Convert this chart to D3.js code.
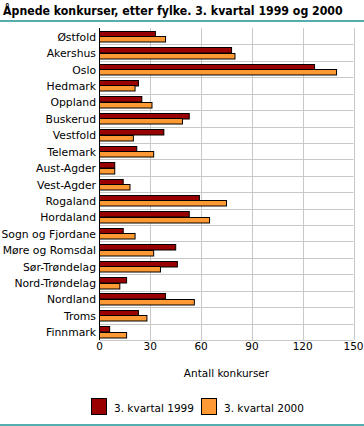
<!DOCTYPE html>
<html>
<head>
<meta charset="utf-8">
<script src="https://cdn.jsdelivr.net/npm/d3@7"></script>
<style>
  body { margin: 0; background: #fff; }
  svg text { font-family: "DejaVu Sans", Verdana, sans-serif; fill: #000; }
</style>
</head>
<body>
<svg id="chart" width="364" height="426"></svg>
<script>
// Counties (fylker)
const counties = ['Østfold', 'Akershus', 'Oslo', 'Hedmark', 'Oppland', 'Buskerud', 'Vestfold',
  'Telemark', 'Aust-Agder', 'Vest-Agder', 'Rogaland', 'Hordaland', 'Sogn og Fjordane',
  'Møre og Romsdal', 'Sør-Trøndelag', 'Nord-Trøndelag', 'Nordland', 'Troms', 'Finnmark'];
// 3. kvartal 1999
const q1999 = [33, 78, 127, 23, 25, 53, 38, 22, 9, 14, 59, 53, 14, 45, 46, 16, 39, 23, 6];
// 3. kvartal 2000
const q2000 = [39, 80, 140, 21, 31, 49, 20, 32, 9, 18, 75, 65, 21, 32, 36, 12, 56, 28, 16];
const xTicks = [0, 30, 60, 90, 120, 150];
const seriesNames = ['3. kvartal 1999', '3. kvartal 2000'];
const colors = ['#990000', '#ff9933'];

const svg = d3.select('#chart');
const plotLeft = 99.5;
const plotRight = 353.5;
const plotTop = 28;
const plotBottom = 340;

const x = d3.scaleLinear().domain([0, 150]).range([plotLeft, plotRight]);
const y = d3.scaleBand().domain(counties).range([plotTop, plotBottom]);
const sub = d3.scaleBand().domain([0, 1]).range([0, 11]);

// Title and rules
const title = svg.append('text')
  .attr('x', 3)
  .attr('y', 15)
  .style('font-family', '"DejaVu Sans Condensed", "DejaVu Sans", sans-serif')
  .style('font-size', '13px')
  .style('font-weight', 'bold')
  .text('Åpnede konkurser, etter fylke. 3. kvartal 1999 og 2000');
// shrink to fit the width the title takes in the original
const tw = title.node().getComputedTextLength();
if (tw > 340) title.style('font-size', `${13 * 340 / tw}px`);

svg.append('line')
  .attr('x1', 0).attr('x2', 364)
  .attr('y1', 21).attr('y2', 21)
  .attr('stroke', '#1a9595')
  .attr('stroke-width', 1.5);

svg.append('line')
  .attr('x1', 0).attr('x2', 364)
  .attr('y1', 425).attr('y2', 425)
  .attr('stroke', '#1a9595')
  .attr('stroke-width', 1.5);

// Grid
const grid = svg.append('g').attr('stroke', '#c8c8c8').attr('stroke-width', 1);
xTicks.slice(1).forEach((t) => {
  grid.append('line')
    .attr('x1', Math.round(x(t)) + 0.5).attr('x2', Math.round(x(t)) + 0.5)
    .attr('y1', plotTop).attr('y2', plotBottom);
});
counties.forEach((c) => {
  const yy = Math.round(y(c) + y.bandwidth()) + 0.5;
  grid.append('line')
    .attr('x1', plotLeft).attr('x2', plotRight)
    .attr('y1', yy).attr('y2', yy);
});

// Bars
const bars = svg.append('g');
[q1999, q2000].forEach((series, s) => {
  bars.selectAll(null)
    .data(series)
    .join('rect')
    .attr('x', plotLeft)
    .attr('y', (d, i) => Math.round(y(counties[i]) + (y.bandwidth() - 11) / 2 + sub(s)) + 0.5)
    .attr('width', d => x(d) - plotLeft)
    .attr('height', sub.bandwidth())
    .attr('fill', colors[s])
    .attr('stroke', '#000')
    .attr('stroke-width', 1);
});

// Left axis line
svg.append('line')
  .attr('x1', plotLeft).attr('x2', plotLeft)
  .attr('y1', plotTop).attr('y2', plotBottom)
  .attr('stroke', '#000');

// Category labels
svg.append('g')
  .selectAll('text')
  .data(counties)
  .join('text')
  .attr('x', 96)
  .attr('y', d => y(d) + y.bandwidth() / 2 + 4.5)
  .attr('text-anchor', 'end')
  .style('font-size', '10.8px')
  .text(d => d);

// X axis labels
svg.append('g')
  .selectAll('text')
  .data(xTicks)
  .join('text')
  .attr('x', d => x(d))
  .attr('y', 350)
  .attr('text-anchor', 'middle')
  .style('font-size', '10.5px')
  .text(d => d);

svg.append('text')
  .attr('x', (plotLeft + plotRight) / 2)
  .attr('y', 377)
  .attr('text-anchor', 'middle')
  .style('font-size', '10.5px')
  .text('Antall konkurser');

// Legend
const legendX = [91, 201];
seriesNames.forEach((name, s) => {
  svg.append('rect')
    .attr('x', legendX[s] + 0.5).attr('y', 398.5)
    .attr('width', 15).attr('height', 16)
    .attr('fill', colors[s])
    .attr('stroke', '#000');
  svg.append('text')
    .attr('x', legendX[s] + 23)
    .attr('y', 411.5)
    .style('font-size', '10.5px')
    .text(name);
});
</script>
</body>
</html>
